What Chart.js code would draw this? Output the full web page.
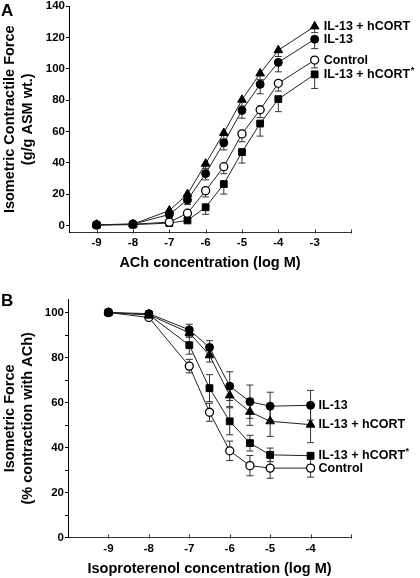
<!DOCTYPE html>
<html>
<head>
<meta charset="utf-8">
<script src="https://cdn.jsdelivr.net/npm/chart.js@4.4.1/dist/chart.umd.min.js"></script>
<style>
  html, body { margin: 0; padding: 0; background: #fff; }
  #wrap { position: relative; width: 420px; height: 578px; }
  .panel { position: absolute; left: 0; width: 420px; }
  #boxA { top: 0; height: 290px; }
  #boxB { top: 290px; height: 288px; }
</style>
</head>
<body>
<div id="wrap">
  <div class="panel" id="boxA"><canvas id="chartA"></canvas></div>
  <div class="panel" id="boxB"><canvas id="chartB"></canvas></div>
</div>
<script>
// ---- panel A: ACh dose response ----
const doseA = [-9, -8, -7, -6.5, -6, -5.5, -5, -4.5, -4, -3];
const hcortA = [0.5, 0.8, 9.5, 20, 39.4, 59, 80.2, 97, 111.8, 127];
const il13A = [0.5, 0.8, 7, 16.3, 33.1, 52.7, 73.4, 90, 104, 118.8];
const controlA = [0.3, 0.8, 2.1, 7.8, 22.2, 37.5, 58.4, 73.8, 90.7, 105.5];
const hcortStarA = [0.2, 0.5, 1.5, 3.2, 11.6, 26.4, 46.8, 65, 80.6, 96.4];
// lower error bars only
const hcortErrA = [0, 0, 1, 2, 3, 4, 4, 4, 4, 4];
const il13ErrA = [0, 0, 2, 3, 4, 4.5, 5, 6, 6, 6];
const controlErrA = [0, 0, 1, 2, 4, 4.5, 5, 5, 5, 5];
const hcortStarErrA = [0, 0, 1, 1, 4.5, 6.4, 7, 8, 8, 9];
const xTicksA = [-9, -8, -7, -6, -5, -4, -3];
const yTicksA = [0, 20, 40, 60, 80, 100, 120, 140];

// ---- panel B: isoproterenol relaxation ----
const doseB = [-9, -8, -7, -6.5, -6, -5.5, -5, -4];
const il13B = [100, 99.5, 92.3, 84.5, 67.3, 60.4, 58.4, 58.8];
const hcortB = [100, 99, 91, 81, 63.2, 55.9, 51.7, 50.2];
const hcortStarB = [100, 99, 85.5, 66.4, 51.7, 42, 36.8, 36.4];
const controlB = [100, 97.8, 76.2, 55.7, 38.6, 32, 30.9, 30.9];
const il13ErrB = [0, 0.5, 2.5, 3, 6.4, 7.4, 6.2, 6.6];
const hcortErrB = [0, 0.5, 2, 3, 5, 6, 6.7, 8];
const hcortStarErrB = [0, 0.5, 4, 6, 6, 3.5, 3, 1];
const controlErrB = [0, 0.5, 3, 4, 4.3, 4.5, 4.5, 4];
const xTicksB = [-9, -8, -7, -6, -5, -4];
const yTicksB = [0, 10, 20, 30, 40, 50, 60, 70, 80, 90, 100];

const FONT = '"Liberation Sans", Arial, Helvetica, sans-serif';

function pts(xs, ys) {
  return xs.map((x, i) => ({ x: x, y: ys[i] }));
}

function series(name, xs, ys, errs, style, twoSided) {
  return {
    label: name,
    data: pts(xs, ys),
    errs: errs,
    twoSided: twoSided,
    borderColor: '#222',
    borderWidth: 1,
    pointStyle: style.shape,
    pointRadius: style.r,
    pointBackgroundColor: style.open ? '#fff' : '#000',
    pointBorderColor: '#000',
    pointBorderWidth: style.open ? 1.3 : 1,
    tension: 0,
    fill: false
  };
}

const tri = { shape: 'triangle', r: 5 };
const dot = { shape: 'circle', r: 4 };
const ring = { shape: 'circle', r: 4, open: true };
const sq = { shape: 'rect', r: 4.8 };

// error bars under the markers
const errorBars = {
  id: 'errorBars',
  beforeDatasetsDraw(chart) {
    const ctx = chart.ctx;
    const xs = chart.scales.x, ys = chart.scales.y;
    ctx.save();
    ctx.strokeStyle = '#333';
    ctx.lineWidth = 1;
    chart.data.datasets.forEach(ds => {
      ds.data.forEach((p, i) => {
        const e = ds.errs[i];
        if (!e) return;
        const px = xs.getPixelForValue(p.x);
        const lo = ys.getPixelForValue(p.y - e);
        const hi = ds.twoSided ? ys.getPixelForValue(p.y + e) : ys.getPixelForValue(p.y);
        ctx.beginPath();
        ctx.moveTo(px, hi);
        ctx.lineTo(px, lo);
        ctx.moveTo(px - 3.5, lo);
        ctx.lineTo(px + 3.5, lo);
        if (ds.twoSided) {
          ctx.moveTo(px - 3.5, hi);
          ctx.lineTo(px + 3.5, hi);
        }
        ctx.stroke();
      });
    });
    ctx.restore();
  }
};

// inward x ticks, series names next to the last points, panel letter
const decor = {
  id: 'decor',
  afterDraw(chart, args, opts) {
    const ctx = chart.ctx;
    const xs = chart.scales.x, ys = chart.scales.y;
    ctx.save();
    ctx.strokeStyle = '#333';
    ctx.lineWidth = 1;
    const yb = Math.round(ys.bottom) + 0.5;
    opts.tickMarks.forEach(v => {
      const px = Math.round(xs.getPixelForValue(v)) + 0.5;
      ctx.beginPath();
      ctx.moveTo(px, yb);
      ctx.lineTo(px, yb - 4);
      ctx.stroke();
    });
    ctx.fillStyle = '#000';
    ctx.textBaseline = 'middle';
    chart.data.datasets.forEach(ds => {
      const last = ds.data[ds.data.length - 1];
      const px = xs.getPixelForValue(last.x) + opts.dx;
      const py = ys.getPixelForValue(last.y);
      let name = ds.label;
      const star = name.endsWith('*');
      if (star) name = name.slice(0, -1);
      ctx.font = 'bold 12.5px ' + FONT;
      ctx.fillText(name, px, py);
      if (star) {
        const w = ctx.measureText(name).width;
        ctx.font = 'bold 9px ' + FONT;
        ctx.fillText('*', px + w + 0.5, py - 4);
      }
    });
    ctx.font = 'bold 17px ' + FONT;
    ctx.textBaseline = 'alphabetic';
    ctx.fillText(opts.letter, opts.letterX, opts.letterY);
    ctx.restore();
  }
};

function makeChart(id, cfg) {
  return new Chart(document.getElementById(id).getContext('2d'), {
    type: 'line',
    data: { datasets: cfg.datasets },
    options: {
      responsive: true,
      maintainAspectRatio: false,
      animation: false,
      layout: { padding: { left: 0, right: cfg.padRight, top: cfg.padTop, bottom: 0 } },
      plugins: {
        legend: { display: false },
        tooltip: { enabled: false },
        decor: { tickMarks: cfg.tickMarks, dx: cfg.dx, letter: cfg.letter, letterX: 1, letterY: 16 }
      },
      scales: {
        x: {
          type: 'linear',
          min: cfg.xMin,
          max: cfg.xMax,
          afterBuildTicks: s => { s.ticks = cfg.xTicks.map(v => ({ value: v })); },
          afterFit: s => { s.height = cfg.xHeight; s.paddingLeft = 0; s.paddingRight = 0; },
          grid: { display: false, drawTicks: false },
          border: { display: true, color: '#333', width: 1 },
          ticks: {
            color: '#000',
            padding: cfg.xTickPad,
            maxRotation: 0,
            autoSkip: false,
            font: { family: FONT, size: 11.5, weight: 'bold' },
            callback: v => String(v)
          },
          title: {
            display: true,
            text: cfg.xTitle,
            color: '#000',
            font: { family: FONT, size: 14.5, weight: 'bold', lineHeight: 1.2 },
            padding: { top: 0, bottom: cfg.xTitlePad }
          }
        },
        y: {
          type: 'linear',
          min: cfg.yMin,
          max: cfg.yMax,
          afterBuildTicks: s => { s.ticks = cfg.yTicks.map(v => ({ value: v })); },
          afterFit: s => { s.width = cfg.yWidth; s.paddingTop = 0; s.paddingBottom = 0; },
          grid: { drawOnChartArea: false, drawTicks: true, tickLength: 3, color: '#000' },
          border: { display: true, color: '#000', width: 1 },
          ticks: {
            color: '#000',
            padding: 1,
            autoSkip: false,
            font: { family: FONT, size: 11.5, weight: 'bold' },
            callback: v => (v % 20 === 0 ? String(v) : '')
          },
          title: {
            display: true,
            text: cfg.yTitle,
            color: '#000',
            font: { family: FONT, size: 14.5, weight: 'bold', lineHeight: 1.24 },
            padding: { top: 1.5, bottom: 0 }
          }
        }
      }
    },
    plugins: [errorBars, decor]
  });
}

makeChart('chartA', {
  datasets: [
    series('IL-13 + hCORT', doseA, hcortA, hcortErrA, tri, false),
    series('IL-13', doseA, il13A, il13ErrA, dot, false),
    series('Control', doseA, controlA, controlErrA, ring, false),
    series('IL-13 + hCORT*', doseA, hcortStarA, hcortStarErrA, sq, false)
  ],
  xMin: -9.76, xMax: -2, xTicks: xTicksA, tickMarks: [-9, -8, -7, -6, -5, -4, -3, -2],
  yMin: -4.5, yMax: 140, yTicks: yTicksA,
  padRight: 69, padTop: 5, xHeight: 57.5, yWidth: 69, xTickPad: 3, xTitlePad: 18,
  dx: 9, letter: 'A',
  xTitle: 'ACh concentration (log M)',
  yTitle: ['Isometric Contractile Force', '(g/g ASM wt.)']
});

makeChart('chartB', {
  datasets: [
    series('IL-13', doseB, il13B, il13ErrB, dot, true),
    series('IL-13 + hCORT', doseB, hcortB, hcortErrB, tri, true),
    series('IL-13 + hCORT*', doseB, hcortStarB, hcortStarErrB, sq, true),
    series('Control', doseB, controlB, controlErrB, ring, true)
  ],
  xMin: -10, xMax: -3, xTicks: xTicksB, tickMarks: [-9, -8, -7, -6, -5, -4, -3],
  yMin: 0, yMax: 106, yTicks: yTicksB,
  padRight: 69, padTop: 9, xHeight: 40.3, yWidth: 68, xTickPad: 4, xTitlePad: 0,
  dx: 8, letter: 'B',
  xTitle: 'Isoproterenol concentration (log M)',
  yTitle: ['Isometric Force', '(% contraction with ACh)']
});
</script>
</body>
</html>
